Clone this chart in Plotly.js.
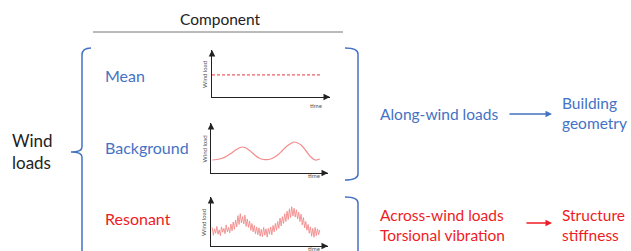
<!DOCTYPE html>
<html><head><meta charset="utf-8">
<script src="https://cdn.plot.ly/plotly-3.0.1.min.js"></script>
<style>html,body{margin:0;padding:0;background:#fff}#c{width:631px;height:251px}</style>
</head><body><div id="c"></div>
<script>
// ---- data ----
const meanTime = [0, 93];
const meanLoad = [4.7, 4.7];

const bgTime = [1,5,9,13,17,21,25,27,29,33,37,41,45,49,53,57,61,65,69,71,73,77,81,85,89,93];
const bgLoad = [2.6,2.7,2.9,3.3,3.9,4.6,5.1,5.2,5.1,4.5,3.7,3.0,2.7,2.7,3.0,3.6,4.5,5.4,6.0,6.2,6.1,5.6,4.5,3.3,2.6,2.8];

const resTime = [1,2,3,4,5,6,7,8,9,10,11,12,13,14,15,16,17,18,19,20,21,22,23,24,25,26,27,28,29,30,
  31,32,33,34,35,36,37,38,39,40,41,42,43,44,45,46,47,48,49,50,51,52,53,54,55,56,57,58,59,60,
  61,62,63,64,65,66,67,68,69,70,71,72,73,74,75,76,77,78,79,80,81,82,83,84,85,86,87,88,89,90,91,92,93];
const resLoad = [3.8,2.2,3.5,2.6,4.0,2.4,3.3,2.1,3.9,2.8,
  3.6,2.5,4.3,2.9,3.8,2.7,4.5,3.1,4.9,3.4,
  5.3,3.9,6.2,4.4,6.6,4.7,6.0,4.5,6.3,4.0,
  5.5,3.8,5.1,3.2,4.6,2.9,4.2,2.5,3.9,2.3,
  3.7,2.0,3.4,1.9,3.8,2.2,3.5,1.8,3.6,2.4,
  3.9,2.3,4.2,2.9,4.6,3.2,5.0,3.6,5.7,4.1,
  6.0,4.6,6.6,5.0,7.1,5.4,7.6,5.8,8.0,6.1,
  7.7,5.9,7.4,5.5,6.9,5.0,6.5,4.3,5.8,3.7,
  5.0,3.2,4.4,2.6,3.9,2.0,3.6,1.8,3.8,2.1,
  3.5,2.3,3.3];

const componentTitle = "Component";
const componentLabels = ["Mean", "Background", "Resonant"];
const windLabel = ["Wind", "loads"];
const effectLabels = ["Along-wind loads", "Across-wind loads<br>Torsional vibration"];
const outcomeLabels = ["Building<br>geometry", "Structure<br>stiffness"];
const axisLabels = ["Wind load", "time"];

// ---- layout helpers ----
const W = 631, H = 251;
const X = p => p / W, Y = p => 1 - p / H;
const BLUE = "#4472C4", RED = "#EE1C24", CURVE = "#F28B8B", INK = "#222";
const FONT = "Lato, 'Open Sans', sans-serif";

const traces = [
  {x: meanTime, y: meanLoad, xaxis: "x", yaxis: "y", mode: "lines",
   line: {color: "#E8363B", width: 1, dash: "3px,2px"}, hoverinfo: "skip"},
  {x: bgTime, y: bgLoad, xaxis: "x2", yaxis: "y2", mode: "lines",
   line: {color: CURVE, width: 1.2, shape: "spline"}, hoverinfo: "skip"},
  {x: resTime, y: resLoad, xaxis: "x3", yaxis: "y3", mode: "lines",
   line: {color: CURVE, width: 0.9}, hoverinfo: "skip"}
];

const panels = [
  {x0: 212, x1: 330, y0: 50, y1: 97},
  {x0: 211, x1: 328, y0: 123, y1: 173},
  {x0: 211, x1: 328, y0: 197, y1: 246}
];

const layout = {
  width: W, height: H, margin: {l: 0, r: 0, t: 0, b: 0},
  paper_bgcolor: "#fff", plot_bgcolor: "rgba(0,0,0,0)", showlegend: false,
  font: {family: FONT}, annotations: [], shapes: []
};

panels.forEach((p, i) => {
  const s = i === 0 ? "" : String(i + 1);
  layout["xaxis" + s] = {domain: [X(p.x0), X(p.x1)], range: [0, 100], anchor: "y" + s,
    showline: true, linecolor: INK, linewidth: 1.3, showgrid: false, zeroline: false,
    showticklabels: false, ticks: "", fixedrange: true};
  layout["yaxis" + s] = {domain: [Y(p.y1), Y(p.y0)], range: [0, 10], anchor: "x" + s,
    showline: true, linecolor: INK, linewidth: 1.3, showgrid: false, zeroline: false,
    showticklabels: false, ticks: "", fixedrange: true};
  // arrowheads on axes
  layout.annotations.push({xref: "x" + s, yref: "y" + s, x: 100, y: 0, ax: -6, ay: 0,
    axref: "pixel", ayref: "pixel", text: "", showarrow: true, arrowhead: 2, arrowsize: 1,
    arrowwidth: 1.3, arrowcolor: INK});
  layout.annotations.push({xref: "x" + s, yref: "y" + s, x: 0, y: 10, ax: 0, ay: 6,
    text: "", showarrow: true, arrowhead: 2, arrowsize: 1, arrowwidth: 1.3, arrowcolor: INK});
  layout.annotations.push({xref: "paper", yref: "paper", x: X(p.x0 - 2), y: Y((p.y0 + p.y1) / 2 + 1),
    xanchor: "right", yanchor: "middle",
    text: axisLabels[0], textangle: -90, showarrow: false, font: {size: 6, color: "#555"}});
  layout.annotations.push({xref: "paper", yref: "paper", x: X(p.x1 - 14), y: Y(p.y1 + 8),
    text: axisLabels[1], showarrow: false, font: {size: 6, color: "#555"}});
});

const txt = (text, px, py, color, size, xanchor, align) => ({
  xref: "paper", yref: "paper", x: X(px), y: Y(py), text, showarrow: false,
  xanchor: xanchor || "left", yanchor: "middle", align: align || "left",
  font: {size, color, family: FONT}
});

layout.annotations.push(txt(componentTitle, 220, 19, INK, 15.5, "center", "center"));
layout.annotations.push(txt(componentLabels[0], 103, 76, BLUE, 16));
layout.annotations.push(txt(componentLabels[1], 103, 147, BLUE, 16));
layout.annotations.push(txt(componentLabels[2], 103, 218, RED, 16));
layout.annotations.push(txt(windLabel.join("<br>"), 10, 151, INK, 17));
layout.annotations.push(txt(effectLabels[0], 378, 114, BLUE, 15.5));
layout.annotations.push(txt(effectLabels[1], 378, 225, RED, 15.5));
layout.annotations.push(txt(outcomeLabels[0], 560, 113, BLUE, 15.5));
layout.annotations.push(txt(outcomeLabels[1], 560, 225, RED, 15.5));

// connector arrows
layout.annotations.push({xref: "paper", yref: "paper", x: X(552), y: Y(114), ax: -44, ay: 0,
  text: "", showarrow: true, arrowhead: 2, arrowsize: 1, arrowwidth: 1.3, arrowcolor: BLUE});
layout.annotations.push({xref: "paper", yref: "paper", x: X(552), y: Y(223), ax: -27, ay: 0,
  text: "", showarrow: true, arrowhead: 2, arrowsize: 1, arrowwidth: 1.3, arrowcolor: RED});

const P = (pts) => pts.map(([cmd, ...xy]) => {
  const out = [];
  for (let k = 0; k < xy.length; k += 2) out.push(X(xy[k]) + "," + Y(xy[k + 1]));
  return cmd + out.join(" ");
}).join(" ");

// title underline
layout.shapes.push({type: "line", xref: "paper", yref: "paper", x0: X(93), x1: X(343), y0: Y(32), y1: Y(32),
  line: {color: "#777", width: 1}});
// left brace
layout.shapes.push({type: "path", xref: "paper", yref: "paper", line: {color: BLUE, width: 1.5},
  path: P([["M", 91, 48], ["Q", 82, 48, 82, 55], ["L", 82, 147], ["Q", 82, 152, 71, 152],
           ["M", 82, 157], ["Q", 82, 152, 71, 152], ["M", 82, 157], ["L", 82, 256]])});
// right bracket 1
layout.shapes.push({type: "path", xref: "paper", yref: "paper", line: {color: BLUE, width: 1.5},
  path: P([["M", 345, 48], ["Q", 358, 48, 358, 54], ["L", 358, 174], ["Q", 358, 180, 345, 180]])});
// right bracket 2
layout.shapes.push({type: "path", xref: "paper", yref: "paper", line: {color: BLUE, width: 1.5},
  path: P([["M", 345, 197], ["Q", 358, 197, 358, 203], ["L", 358, 256]])});

Plotly.newPlot("c", traces, layout, {staticPlot: true, displayModeBar: false});
</script></body></html>
